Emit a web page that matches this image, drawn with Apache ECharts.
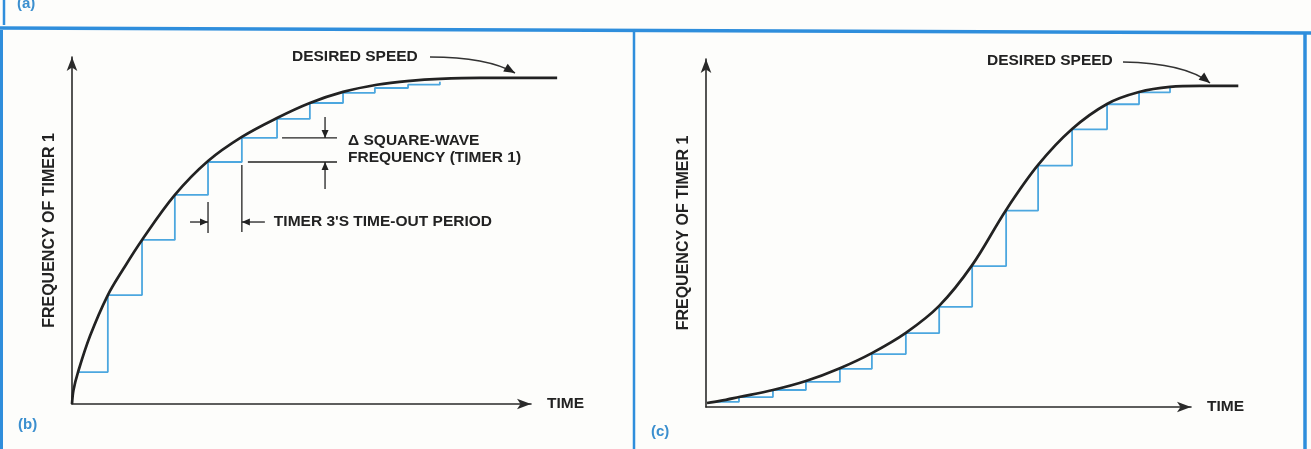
<!DOCTYPE html>
<html>
<head>
<meta charset="utf-8">
<script src="https://cdn.jsdelivr.net/npm/echarts@6/dist/echarts.min.js"></script>
<style>
html, body { margin: 0; padding: 0; background: #fdfdfb; }
#main { width: 1311px; height: 449px; }
</style>
</head>
<body>
<div id="main"></div>
<script>
// time is counted in timer-3 periods, frequency in % of the desired speed

// (b) exponential approach
const timeB = [0, 0.045, 0.18, 0.54, 1.07, 1.55, 2.09, 3.07, 4.06, 5.07, 6.12, 7.1, 8.09, 9.1, 10.09, 10.98, 12.18, 14.48];
const freqB = [0, 4.3, 9.8, 20.9, 33.4, 41.7, 50.3, 64.1, 74.5, 81.9, 87.7, 92.3, 95.7, 97.9, 99.1, 99.7, 100, 100];
const stepTimeB = [0.18, 1.07, 2.09, 3.07, 4.06, 5.07, 6.12, 7.1, 8.09, 9.04, 10.03, 10.98];
const stepFreqB = [9.8, 33.4, 50.3, 64.1, 74.2, 81.6, 87.4, 92.3, 95.4, 96.9, 97.9, 98.8];

// (c) S-shaped approach
const timeC = [0.03, 0.42, 0.99, 2.01, 3.0, 4.02, 4.98, 6.0, 7.0, 7.99, 9.01, 9.97, 10.99, 12.04, 13.0, 13.93, 14.83, 15.98];
const freqC = [1.25, 1.9, 3.1, 5.3, 8.1, 12.1, 16.8, 23.1, 31.5, 44.2, 61.4, 75.4, 86.6, 94.4, 98.1, 99.7, 100, 100];
const stepTimeC = [0.3, 0.99, 2.01, 3.0, 4.02, 4.98, 6.0, 7.0, 7.99, 9.01, 9.97, 10.99, 12.04, 13.0, 13.93];
const stepFreqC = [1.6, 3.1, 5.3, 7.8, 11.9, 16.5, 23.0, 31.2, 43.9, 61.2, 75.2, 86.5, 94.3, 98.0, 99.6];

// visible axis extents (arrow ends) and how far the desired-speed line runs
const axisMaxB = [13.7, 106.4];
const axisMaxC = [14.56, 108.4];
const curveMaxB = 15;
const curveMaxC = 16.5;

const ink = '#222';
const stepBlue = '#4ca7df';
const frameBlue = '#2f8edc';
const font = "'Liberation Sans', Arial, sans-serif";

const gridB = { left: 72, top: 57, width: 459, height: 347 };
const gridC = { left: 706, top: 59, width: 485, height: 348 };

function zip(xs, ys) {
  return xs.map((x, i) => [x, ys[i]]);
}

const hidden = { show: false };

function xAxisOpt(idx, max) {
  return {
    gridIndex: idx, type: 'value', min: 0, max: max,
    name: 'TIME', nameLocation: 'end', nameGap: 16,
    nameTextStyle: { fontFamily: font, fontWeight: 'bold', fontSize: 15.5, color: ink, verticalAlign: 'middle' },
    axisLine: { show: true, symbol: ['none', 'arrow'], symbolSize: [8, 14], lineStyle: { color: '#2a2a2a', width: 1.6 } },
    axisTick: hidden, axisLabel: hidden, splitLine: hidden
  };
}

function yAxisOpt(idx, max) {
  return {
    gridIndex: idx, type: 'value', min: 0, max: max,
    name: 'FREQUENCY OF TIMER 1', nameLocation: 'middle', nameGap: 14,
    nameTextStyle: { fontFamily: font, fontWeight: 'bold', fontSize: 16, color: ink },
    axisLine: { show: true, symbol: ['none', 'arrow'], symbolSize: [8, 14], lineStyle: { color: '#2a2a2a', width: 1.6 } },
    axisTick: hidden, axisLabel: hidden, splitLine: hidden
  };
}

// same scale as the visible axes, just a wider hidden frame for the curve
function overlayGrid(base, max, curveMax) {
  return Object.assign({}, base, { width: base.width * curveMax / max });
}
function hiddenAxis(idx, max) {
  return { gridIndex: idx, type: 'value', min: 0, max: max, show: false };
}

function stairs(idx, data) {
  return {
    type: 'line', xAxisIndex: idx, yAxisIndex: idx, step: 'end', data: data,
    showSymbol: false, silent: true, z: 2,
    lineStyle: { color: stepBlue, width: 1.8 }
  };
}

function curve(idx, data) {
  return {
    type: 'line', xAxisIndex: idx, yAxisIndex: idx, data: data,
    smooth: 0.35,
    showSymbol: false, silent: true, z: 3,
    lineStyle: { color: ink, width: 2.7 }
  };
}

const chart = echarts.init(document.getElementById('main'));
chart.setOption({
  animation: false,
  backgroundColor: '#fdfdfb',
  grid: [
    gridB,
    gridC,
    overlayGrid(gridB, axisMaxB[0], curveMaxB),
    overlayGrid(gridC, axisMaxC[0], curveMaxC)
  ],
  xAxis: [xAxisOpt(0, axisMaxB[0]), xAxisOpt(1, axisMaxC[0]), hiddenAxis(2, curveMaxB), hiddenAxis(3, curveMaxC)],
  yAxis: [yAxisOpt(0, axisMaxB[1]), yAxisOpt(1, axisMaxC[1]), hiddenAxis(2, axisMaxB[1]), hiddenAxis(3, axisMaxC[1])],
  series: [
    stairs(0, zip(stepTimeB, stepFreqB)),
    curve(2, zip(timeB, freqB)),
    stairs(1, zip(stepTimeC, stepFreqC)),
    curve(3, zip(timeC, freqC))
  ]
});

// annotations
function line(p1, p2, w, color) {
  return { type: 'line', silent: true, shape: { x1: p1[0], y1: p1[1], x2: p2[0], y2: p2[1] },
    style: { stroke: color || ink, lineWidth: w || 1.3 } };
}
function head(tip, from, len, half) {
  const dx = tip[0] - from[0], dy = tip[1] - from[1];
  const d = Math.hypot(dx, dy), ux = dx / d, uy = dy / d;
  const bx = tip[0] - ux * len, by = tip[1] - uy * len;
  return { type: 'polygon', silent: true,
    shape: { points: [tip, [bx - uy * half, by + ux * half], [bx + uy * half, by - ux * half]] },
    style: { fill: ink } };
}
function arrow(from, to) {
  return [line(from, to), head(to, from, 8, 3.5)];
}
function bentArrow(from, ctrl, to) {
  return [
    { type: 'bezierCurve', silent: true,
      shape: { x1: from[0], y1: from[1], x2: to[0], y2: to[1], cpx1: ctrl[0], cpy1: ctrl[1] },
      style: { stroke: '#333', lineWidth: 1.5, fill: null } },
    head(to, ctrl, 11, 4.5)
  ];
}
function label(str, x, y) {
  return { type: 'text', silent: true, x: x, y: y,
    style: { text: str, fill: ink, font: 'bold 15.5px ' + font, textAlign: 'left', textVerticalAlign: 'middle' } };
}

const px = (g, t, f) => chart.convertToPixel({ gridIndex: g }, [t, f]);
const a4 = px(0, stepTimeB[4], stepFreqB[4]);
const a5 = px(0, stepTimeB[5], stepFreqB[5]);
const a6 = px(0, stepTimeB[6], stepFreqB[6]);
const dimX = a6[0] + 48;
const tickX = dimX + 12;

let g = [];
// frame
g.push(line([0, 28], [1311, 33], 3.5, frameBlue));
g.push(line([4, 0], [4, 25], 2.5, frameBlue));
g.push(line([1.5, 30], [1.5, 449], 3, frameBlue));
g.push(line([634, 32], [634, 449], 2.5, frameBlue));
g.push(line([1305, 33], [1305, 449], 3.5, frameBlue));

// panel labels
const panelFont = 'bold 15px ' + font;
g.push({ type: 'text', silent: true, x: 17, y: 11, style: { text: '(a)', fill: '#3b8fcf', font: panelFont, textVerticalAlign: 'bottom' } });
g.push({ type: 'text', silent: true, x: 18, y: 425, style: { text: '(b)', fill: '#3b8fcf', font: panelFont, textVerticalAlign: 'middle' } });
g.push({ type: 'text', silent: true, x: 651, y: 432, style: { text: '(c)', fill: '#3b8fcf', font: panelFont, textVerticalAlign: 'middle' } });

// (b) desired speed
g.push(label('DESIRED SPEED', 292, 57));
g = g.concat(bentArrow([430, 57], [487, 57], [515, 73]));

// (b) delta square-wave frequency
g.push(line([a6[0] + 5, a5[1]], [tickX, a5[1]]));
g.push(line([a5[0] + 6, a4[1]], [tickX, a4[1]]));
g = g.concat(arrow([dimX, a5[1] - 21], [dimX, a5[1]]));
g = g.concat(arrow([dimX, a4[1] + 27], [dimX, a4[1]]));
g.push(label('\u0394 SQUARE-WAVE', tickX + 11, a5[1] + 3));
g.push(label('FREQUENCY (TIMER 1)', tickX + 11, a4[1] - 4));

// (b) timer 3 period
const perY = a4[1] + 60;
g.push(line([a4[0], a4[1] + 40], [a4[0], perY + 11]));
g.push(line([a5[0], a4[1] + 3], [a5[0], perY + 10]));
g = g.concat(arrow([a4[0] - 18, perY], [a4[0], perY]));
g = g.concat(arrow([a5[0] + 23, perY], [a5[0], perY]));
g.push(label("TIMER 3'S TIME-OUT PERIOD", a5[0] + 32, perY));

// (c) desired speed
g.push(label('DESIRED SPEED', 987, 61));
g = g.concat(bentArrow([1123, 62], [1185, 63], [1210, 83]));

chart.setOption({ graphic: g });
</script>
</body>
</html>
